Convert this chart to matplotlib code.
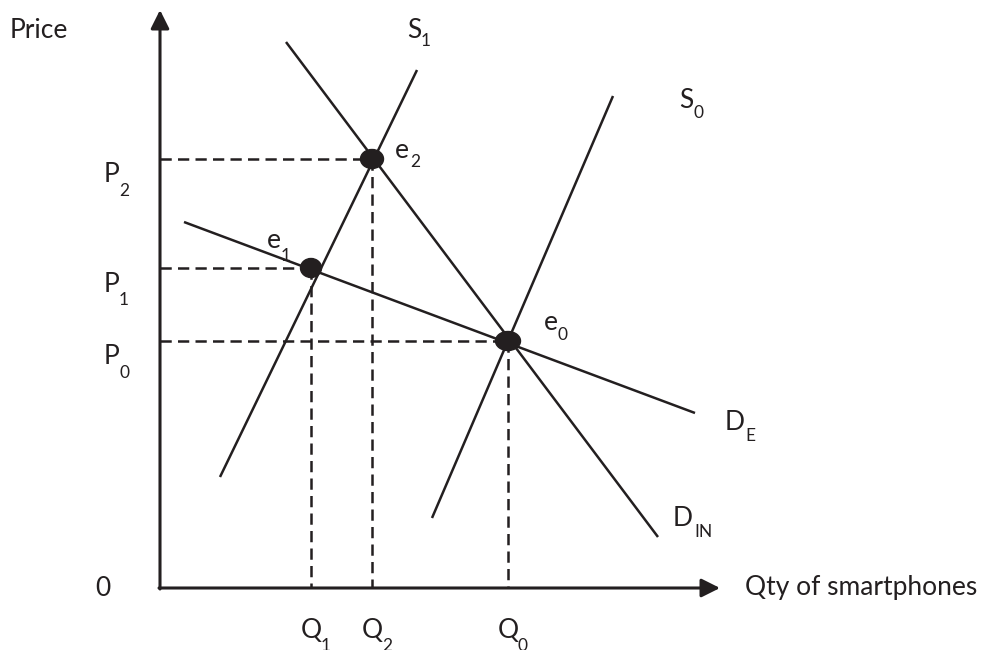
import matplotlib
matplotlib.use('Agg')
import matplotlib.pyplot as plt
from matplotlib.patches import Ellipse

plt.rcParams['font.family'] = ['Lato', 'DejaVu Sans']

INK = '#231f20'

# curves as (quantity, price) end points
s1_q = [1.2, 5.14]
s1_p = [2.22, 10.36]
s0_q = [5.44, 9.06]
s0_p = [1.4, 9.84]
d_in_q = [2.52, 9.96]
d_in_p = [10.92, 1.02]
d_e_q = [0.48, 10.7]
d_e_p = [7.32, 3.5]

# equilibria e0, e1, e2
eq_names = ['0', '1', '2']
eq_q = [6.96, 3.02, 4.24]
eq_p = [4.94, 6.4, 8.58]

fig = plt.figure(figsize=(9.85, 6.5), dpi=100)
ax = fig.add_axes([0, 0, 1, 1])
ax.set_xlim(-3.2, 16.5)
ax.set_ylim(-1.24, 11.76)
ax.axis('off')

# axes with arrows
arrow = dict(arrowstyle='-|>', lw=2.2, color=INK, mutation_scale=28, shrinkA=0, shrinkB=0)
ax.annotate('', xy=(0, 11.56), xytext=(0, -0.02), arrowprops=arrow)
ax.annotate('', xy=(11.2, 0), xytext=(-0.02, 0), arrowprops=arrow)

# dashed guides
for q, p in zip(eq_q, eq_p):
    ax.plot([0, q], [p, p], color=INK, lw=1.8, dashes=(4.5, 2.5))
    ax.plot([q, q], [p, 0], color=INK, lw=1.8, dashes=(4.5, 2.5))

# supply and demand lines
for xs, ys in [(s1_q, s1_p), (s0_q, s0_p), (d_in_q, d_in_p), (d_e_q, d_e_p)]:
    ax.plot(xs, ys, color=INK, lw=1.8, solid_capstyle='butt')

# equilibrium dots
dot_w = [0.5, 0.42, 0.46]
for q, p, w in zip(eq_q, eq_p, dot_w):
    ax.add_patch(Ellipse((q, p), w, 0.38, color=INK, zorder=5))

MAIN = 19
SUB = 12.5


def label(x, y, main, sub, dx, dy):
    ax.text(x, y, main, fontsize=MAIN, color=INK, ha='center', va='center')
    ax.annotate(sub, xy=(x, y), xytext=(dx, -dy), textcoords='offset pixels',
                fontsize=SUB, color=INK, ha='center', va='center')


ax.text(-3.0, 11.14, 'Price', fontsize=MAIN, color=INK, ha='left', va='center')
ax.text(-1.14, 0, '0', fontsize=MAIN, color=INK, ha='center', va='center')
ax.text(11.7, 0, 'Qty of smartphones', fontsize=MAIN, color=INK, ha='left', va='center')

for name, q, p in zip(eq_names, eq_q, eq_p):
    label(-0.98, p - 0.32, 'P', name, 13, 16)
    label(q, -0.86, 'Q', name, 15, 15)

label(4.84, 8.76, 'e', '2', 13, 12)
label(2.28, 6.94, 'e', '1', 12, 15)
label(7.82, 5.32, 'e', '0', 12, 13)
label(5.08, 11.16, 'S', '1', 12, 11)
label(10.52, 9.74, 'S', '0', 12, 12)
label(11.5, 3.32, 'D', 'E', 15, 14)
label(10.46, 1.38, 'D', 'IN', 21, 13)

fig.savefig('out.png', dpi=100, facecolor='white')
